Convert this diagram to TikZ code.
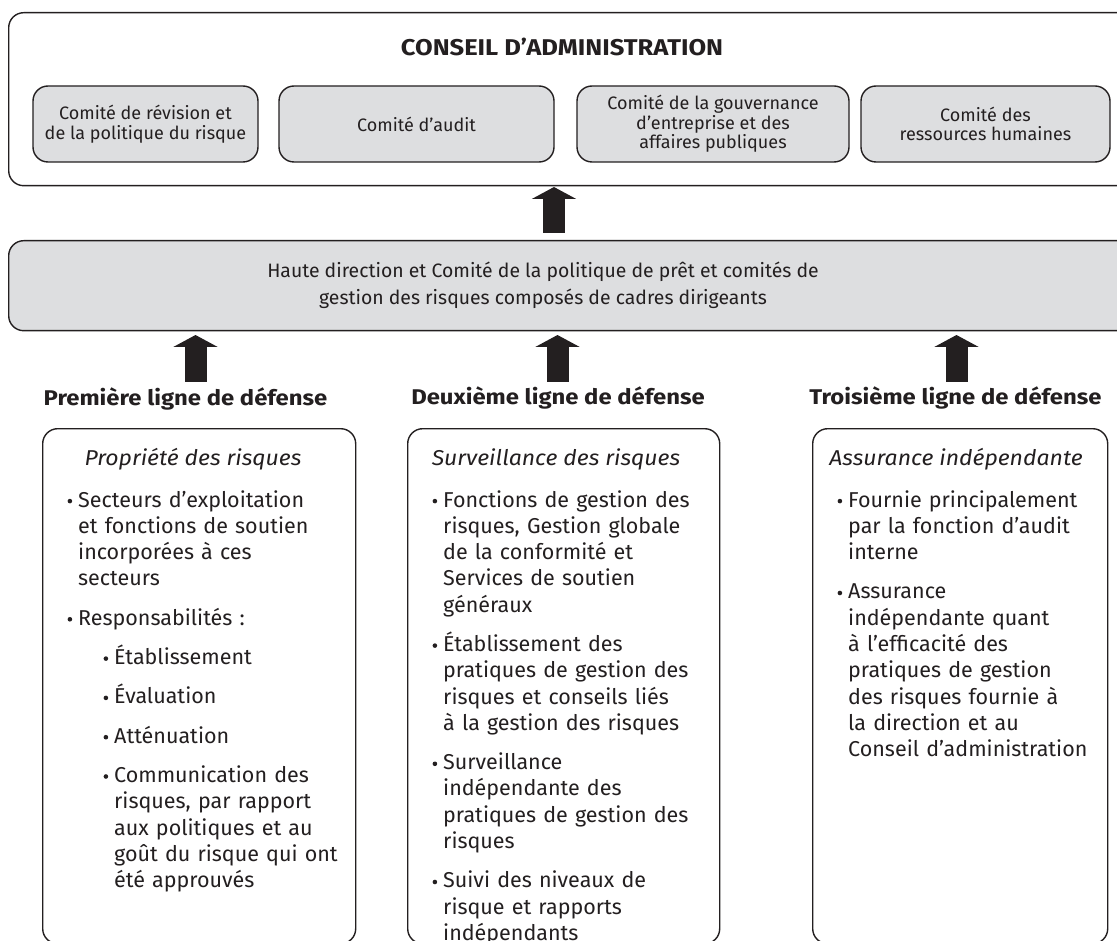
\documentclass[tikz,border=0pt]{standalone}
\usepackage{fontspec}
\setmainfont{Fira Sans}
\newfontfamily\widefont[FakeStretch=1.12]{Fira Sans}
\newfontfamily\titlefont[FakeStretch=1.07]{Fira Sans}
\usetikzlibrary{arrows.meta}
\definecolor{ink}{RGB}{35,31,32}
\definecolor{boxgray}{RGB}{221,222,224}
\newcommand\bul{\raisebox{3.6pt}{\tikz\fill[ink] (0,0) circle (2.3pt);}}
\newcommand\bitem[1]{\noindent\llap{\bul\hspace{6pt}}#1\par}
\newcommand\sitem[1]{{\leftskip=36pt\noindent\llap{\bul\hspace{6pt}}#1\par}}
\newcommand\igap{\vspace{13pt}}
\tikzset{
  frame/.style={draw=ink, line width=1.4pt, rounded corners=15pt, inner sep=0pt},
  comite/.style={frame, fill=boxgray, minimum height=76pt, align=center,
    font=\fontsize{18}{19.5}\selectfont, text=ink},
  colbox/.style={frame, fill=white, anchor=north west, minimum height=515pt},
  heading/.style={font=\widefont\bfseries\fontsize{21.3}{24}\selectfont, text=ink, anchor=base, inner sep=0pt},
  coltitle/.style={font=\titlefont\itshape\fontsize{21.5}{26}\selectfont, text=ink, anchor=base, inner sep=0pt},
  listtext/.style={font=\fontsize{21.5}{26.3}\selectfont, text=ink, anchor=base west,
    inner sep=0pt, text width=300pt, align=left},
  bigarrow/.style={draw=ink, line width=22pt, -{Triangle[length=12pt,width=44pt]}}
}
\begin{document}
\begin{tikzpicture}[x=1pt,y=-1pt]
\useasboundingbox (0,0) rectangle (1117,941);
% board
\node[frame, fill=white, anchor=north west, minimum width=1127pt, minimum height=173pt] (board) at (8,12) {};
\node[heading, font=\widefont\bfseries\fontsize{22.8}{26}\selectfont] (title) at (562,56) {CONSEIL D’ADMINISTRATION};
\node[comite, minimum width=225pt] (c1) at (145.5,124) {Comité de révision et\\de la politique du risque};
\node[comite, minimum width=275pt] (c2) at (416.5,124) {Comité d’audit};
\node[comite, minimum width=272pt] (c3) at (713,124) {Comité de la gouvernance\\d’entreprise et des\\affaires publiques};
\node[comite, minimum width=249pt] (c4) at (985.5,124) {Comité des\\ressources humaines};
% senior management
\node[frame, fill=boxgray, anchor=north west, minimum width=1127pt, minimum height=90pt] (mid) at (8,240) {};
\node[font=\fontsize{19.4}{27}\selectfont, text=ink, align=center, inner sep=0pt] (midtext) at (543,285)
  {Haute direction et Comité de la politique de prêt et comités de\\gestion des risques composés de cadres dirigeants};
% arrows
\coordinate (a0s) at (554,233); \coordinate (a0e) at (554,187);
\coordinate (a1s) at (195.5,382); \coordinate (a1e) at (195.5,335);
\coordinate (a2s) at (557.5,382); \coordinate (a2e) at (557.5,335);
\coordinate (a3s) at (956.5,382); \coordinate (a3e) at (956.5,335);
\draw[bigarrow] (a0s) -- (a0e);
\draw[bigarrow] (a1s) -- (a1e);
\draw[bigarrow] (a2s) -- (a2e);
\draw[bigarrow] (a3s) -- (a3e);
% headings
\node[heading] (h1) at (185.5,406) {Première ligne de défense};
\node[heading] (h2) at (558,405) {Deuxième ligne de défense};
\node[heading] (h3) at (955.5,405) {Troisième ligne de défense};
% column boxes
\node[colbox, minimum width=313pt] (b1) at (42,428) {};
\node[colbox, minimum width=312pt] (b2) at (407,428) {};
\node[colbox, minimum width=295pt] (b3) at (812,428) {};
\node[coltitle] (t1) at (193,465) {Propriété des risques};
\node[coltitle] (t2) at (556,465) {Surveillance des risques};
\node[coltitle] (t3) at (956,465) {Assurance indépendante};
\node[listtext] (l1) at (78,507) {%
\bitem{Secteurs d’exploitation\\et fonctions de soutien\\incorporées à ces\\secteurs}
\igap
\bitem{Responsabilités~:}
\igap
\sitem{Établissement}
\igap
\sitem{Évaluation}
\igap
\sitem{Atténuation}
\igap
\sitem{Communication des\\risques, par rapport\\aux politiques et au\\goût du risque qui ont\\été approuvés}};
\node[listtext] (l2) at (443,507) {%
\bitem{Fonctions de gestion des\\risques, Gestion globale\\de la conformité et\\Services de soutien\\généraux}
\igap
\bitem{Établissement des\\pratiques de gestion des\\risques et conseils liés\\à la gestion des risques}
\igap
\bitem{Surveillance\\indépendante des\\pratiques de gestion des\\risques}
\igap
\bitem{Suivi des niveaux de\\risque et rapports\\indépendants}};
\node[listtext] (l3) at (848,507) {%
\bitem{Fournie principalement\\par la fonction d’audit\\interne}
\igap
\bitem{Assurance\\indépendante quant\\à l’efficacité des\\pratiques de gestion\\des risques fournie à\\la direction et au\\Conseil d’administration}};
\end{tikzpicture}
\end{document}
